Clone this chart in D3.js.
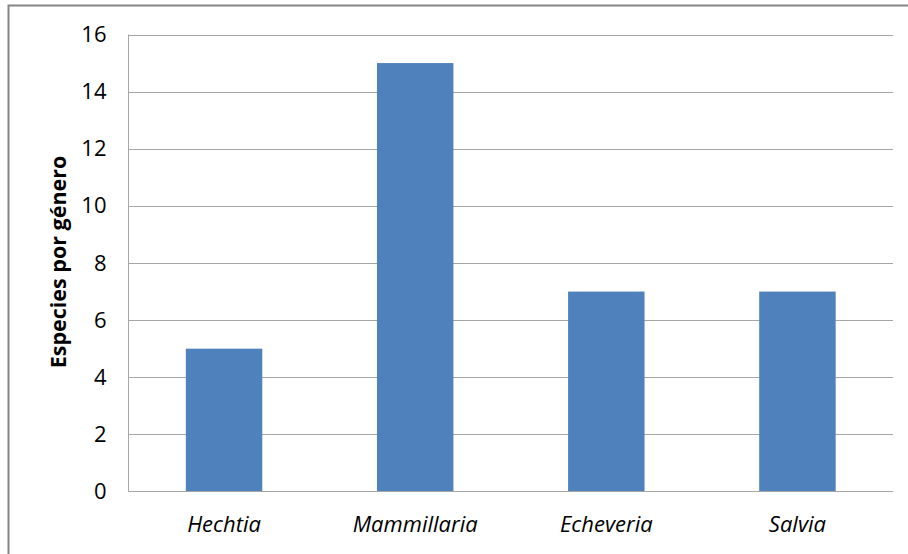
<!DOCTYPE html>
<html>
<head>
<meta charset="utf-8">
<script src="https://cdn.jsdelivr.net/npm/d3@7/dist/d3.min.js"></script>
<style>
  html, body { margin: 0; padding: 0; background: #fff; }
  svg { display: block; }
</style>
</head>
<body>
<svg id="chart" width="908" height="554"></svg>
<script>
// Species count per genus
const genera = ["Hechtia", "Mammillaria", "Echeveria", "Salvia"];
const speciesCount = [5, 15, 7, 7];
const yTicks = [0, 2, 4, 6, 8, 10, 12, 14, 16];
const yTitle = "Especies por género";

const svg = d3.select("#chart");
const W = 908, H = 554;
const plot = { left: 128.5, right: 893, top: 34.5, bottom: 491.5 };
const font = "'Open Sans', Lato, sans-serif";

// outer chart frame (extends past the visible area on right/bottom)
svg.append("rect")
  .attr("x", 8.5).attr("y", 5.5)
  .attr("width", W + 20).attr("height", H + 20)
  .attr("fill", "#fff")
  .attr("stroke", "#868686").attr("stroke-width", 2);

const x = d3.scaleBand().domain(genera).range([plot.left, plot.right]).padding(0);
const y = d3.scaleLinear().domain([0, 16]).range([plot.bottom, plot.top]);

// horizontal gridlines
svg.append("g").selectAll("line").data(yTicks.filter(t => t > 0)).join("line")
  .attr("x1", plot.left).attr("x2", plot.right)
  .attr("y1", d => Math.round(y(d)) + 0.5).attr("y2", d => Math.round(y(d)) + 0.5)
  .attr("stroke", "#a6a6a6").attr("stroke-width", 1);

// bars: 40% of each category slot, centered
const barFrac = 0.4;
svg.append("g").selectAll("rect").data(genera).join("rect")
  .attr("x", (d) => x(d) + x.bandwidth() * (1 - barFrac) / 2)
  .attr("width", x.bandwidth() * barFrac)
  .attr("y", (d, i) => y(speciesCount[i]))
  .attr("height", (d, i) => y(0) - y(speciesCount[i]))
  .attr("fill", "#4f81bd");

// y axis (no tick marks, labels only)
const yAxis = svg.append("g")
  .attr("transform", `translate(${plot.left},0)`)
  .call(d3.axisLeft(y).tickValues(yTicks).tickSize(0).tickPadding(22));
yAxis.select(".domain").attr("stroke", "#a6a6a6").attr("d", `M0,${plot.top}V${plot.bottom}`);
yAxis.selectAll(".tick line").remove();
yAxis.selectAll(".tick text")
  .attr("font-family", font).attr("font-size", 22).attr("fill", "#000");

// x axis
const xAxis = svg.append("g")
  .attr("transform", `translate(0,${plot.bottom})`)
  .call(d3.axisBottom(x).tickSize(0).tickPadding(25));
xAxis.select(".domain").attr("stroke", "#a6a6a6").attr("d", `M${plot.left},0H${plot.right}`);
xAxis.selectAll(".tick text")
  .attr("font-family", font).attr("font-size", 22).attr("font-style", "italic").attr("fill", "#000");

// y axis title
svg.append("text")
  .attr("transform", `translate(66,262) rotate(-90)`)
  .attr("text-anchor", "middle")
  .attr("font-family", font).attr("font-size", 21.5).attr("font-weight", "bold")
  .text(yTitle);
</script>
</body>
</html>
